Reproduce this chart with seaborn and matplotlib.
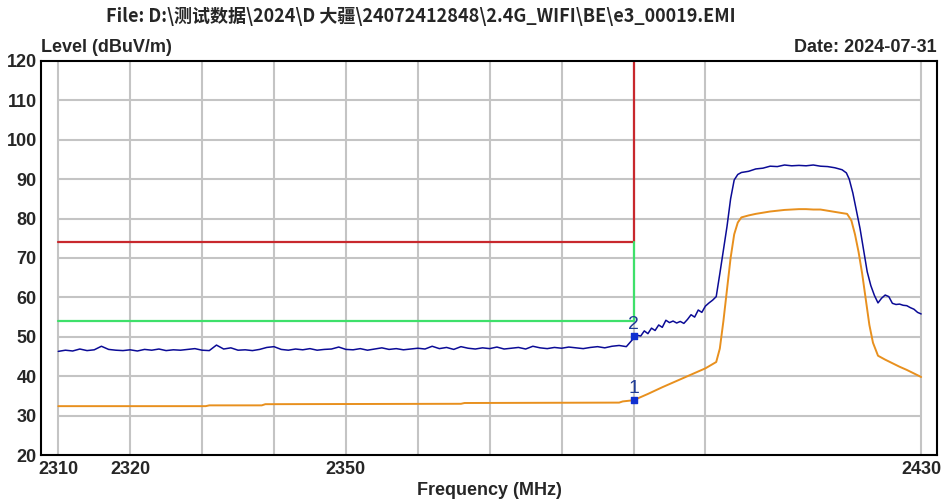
import numpy as np
import pandas as pd
import matplotlib
matplotlib.use("Agg")
import matplotlib.pyplot as plt
import seaborn as sns

# ---------------------
# Data
# ---------------------
title_text = "File: D:\\测试数据\\2024\\D 大疆\\24072412848\\2.4G_WIFI\\BE\\e3_00019.EMI"
date_text = "Date: 2024-07-31"

# peak trace (blue)
peak_base_freq = list(range(2310, 2390))
peak_base_level = [
    46.3, 46.6, 46.4, 46.9, 46.5, 46.7, 47.6, 46.8, 46.6, 46.5,
    46.7, 46.4, 46.8, 46.6, 46.9, 46.5, 46.7, 46.6, 46.8, 47.0,
    46.6, 46.5, 47.9, 46.9, 47.2, 46.6, 46.7, 46.5, 46.8, 47.3,
    47.5, 46.8, 46.6, 46.9, 46.7, 47.0, 46.6, 46.8, 46.9, 47.4,
    46.8, 46.7, 47.0, 46.6, 46.9, 47.2, 46.8, 47.0, 46.7, 46.9,
    47.1, 46.9, 47.6, 47.0, 47.3, 46.8, 47.5, 47.1, 46.9, 47.2,
    47.0, 47.4, 46.9, 47.1, 47.3, 46.9, 47.6, 47.2, 47.0, 47.3,
    47.1, 47.4, 47.2, 47.0, 47.3, 47.5, 47.2, 47.6, 47.8, 47.5,
]
peak_band_freq = [
    2390, 2390.5, 2391, 2391.5, 2392, 2392.5, 2393, 2393.5, 2394, 2394.5,
    2395, 2395.5, 2396, 2396.5, 2397, 2397.5, 2398, 2398.5, 2399, 2399.5,
    2400, 2400.5, 2401, 2401.5, 2402, 2402.5, 2403, 2403.5, 2404, 2404.5,
    2405, 2406, 2407, 2408, 2409, 2410, 2411, 2412, 2413, 2414,
    2415, 2416, 2417, 2418, 2419, 2419.6, 2420, 2420.5, 2421, 2421.5,
    2422, 2422.5, 2423, 2423.5, 2424, 2424.5, 2425, 2425.5, 2426, 2426.5,
    2427, 2427.5, 2428, 2428.5, 2429, 2429.5, 2430,
]
peak_band_level = [
    49.6, 50.4, 50.2, 51.5, 50.8, 52.2, 51.6, 53.0, 52.4, 54.2,
    53.6, 54.0, 53.5, 53.9, 53.4, 54.4, 55.6, 55.0, 56.8, 56.2,
    57.8, 58.6, 59.3, 60.2, 66.0, 72.0, 78.0, 85.0, 89.8, 91.2,
    91.7, 92.0, 92.6, 92.8, 93.3, 93.2, 93.6, 93.4, 93.5, 93.4,
    93.6, 93.3, 93.2, 92.9, 92.4, 91.6, 90.0, 86.5, 82.0, 77.5,
    72.0, 66.5, 63.0, 60.5, 58.6, 59.8, 60.6, 60.2, 58.5, 58.2,
    58.3, 58.0, 57.9, 57.4, 57.0, 56.2, 55.8,
]

# average trace (orange)
avg_freq = [
    2310, 2330.5, 2331, 2338.3, 2338.8, 2366, 2366.5, 2388, 2388.5, 2390,
    2392, 2394, 2396, 2398, 2400, 2401.5, 2402, 2402.5, 2403, 2403.5,
    2404, 2404.5, 2405, 2406, 2407, 2408, 2409, 2410, 2411, 2412,
    2413, 2414, 2415, 2416, 2417, 2418, 2419, 2419.7, 2420.3, 2420.8,
    2421.3, 2421.8, 2422.3, 2422.8, 2423.3, 2424, 2425, 2426, 2427, 2428,
    2429, 2430,
]
avg_level = [
    32.4, 32.4, 32.6, 32.6, 32.9, 33.0, 33.2, 33.3, 33.6, 33.9,
    35.5, 37.2, 38.8, 40.4, 42.0, 43.6, 47.0, 54.0, 62.0, 70.0,
    76.0, 79.0, 80.3, 80.8, 81.2, 81.5, 81.8, 82.0, 82.2, 82.3,
    82.4, 82.4, 82.3, 82.3, 82.0, 81.7, 81.4, 81.2, 79.5, 76.0,
    71.5, 66.0, 59.5, 53.0, 48.5, 45.2, 44.2, 43.3, 42.4, 41.6,
    40.7, 39.8,
]

# limit lines
peak_limit_freq = [2310, 2390, 2390]
peak_limit_level = [74, 74, 120]
avg_limit_freq = [2310, 2390, 2390]
avg_limit_level = [54, 54, 74]

# markers
marker_freq = [2390, 2390]
marker_level = [33.9, 50.1]
marker_names = ["1", "2"]

# grid / ticks
grid_x = [2310, 2320, 2330, 2340, 2350, 2360, 2370, 2380, 2390, 2400, 2430]
grid_y = [30, 40, 50, 60, 70, 80, 90, 100, 110]
x_ticks = [2310, 2320, 2350, 2430]
y_ticks = [20, 30, 40, 50, 60, 70, 80, 90, 100, 110, 120]

BLUE = "#0b0b96"
ORANGE = "#e8901e"
RED = "#c8282d"
GREEN = "#3ee06a"
GRID = "#c4c4c4"

sns.set_style("white")
NARROW = ["Liberation Sans Narrow", "Liberation Sans", "DejaVu Sans"]
CJK = ["Liberation Sans Narrow", "Noto Sans CJK SC", "DejaVu Sans"]
plt.rcParams["font.family"] = NARROW

fig = plt.figure(figsize=(9.45, 5.04), dpi=100)
ax = fig.add_axes([0.0434, 0.0972, 0.9481, 0.7818])

# grid restricted to the data range
ax.hlines(grid_y, 2310, 2430, colors=GRID, linewidth=1.5, zorder=0)
ax.vlines(grid_x, 20, 120, colors=GRID, linewidth=1.5, zorder=0)

peak_df = pd.DataFrame({"freq": peak_base_freq + peak_band_freq,
                        "level": peak_base_level + peak_band_level})
avg_df = pd.DataFrame({"freq": avg_freq, "level": avg_level})

sns.lineplot(data=avg_df, x="freq", y="level", color=ORANGE, linewidth=1.4,
             sort=False, ax=ax, zorder=3)
sns.lineplot(data=peak_df, x="freq", y="level", color=BLUE, linewidth=1.1,
             sort=False, ax=ax, zorder=4)
ax.plot(peak_limit_freq, peak_limit_level, color=RED, linewidth=1.6, zorder=2)
ax.plot(avg_limit_freq, avg_limit_level, color=GREEN, linewidth=1.6, zorder=2)

ax.scatter(marker_freq, marker_level, marker="s", s=22, color="#1030d0", zorder=5)
for f, lv, name in zip(marker_freq, marker_level, marker_names):
    ax.text(f, lv + 0.8, name, ha="center", va="bottom", fontsize=14,
            color="#203c96", family=["Liberation Sans", "DejaVu Sans"], zorder=6)

ax.set_xlim(2307.6, 2432.2)
ax.set_ylim(20, 120)
ax.set_xticks(x_ticks)
ax.set_yticks(y_ticks)
ax.set_xticklabels([str(t) for t in x_ticks], fontsize=13, fontweight="bold")
ax.set_yticklabels([str(t) for t in y_ticks], fontsize=13, fontweight="bold")
ax.tick_params(axis="both", length=0, pad=3)
ax.tick_params(axis="x", pad=4)
ax.set_xlabel("Frequency (MHz)", fontsize=13, fontweight="bold", labelpad=3)
ax.set_ylabel("")

for side in ["top", "bottom", "left", "right"]:
    ax.spines[side].set_visible(True)
    ax.spines[side].set_color("black")
    ax.spines[side].set_linewidth(1.5)

fig.text(0.445, 0.968, title_text, ha="center", va="center", fontsize=13,
         fontweight="bold", family=CJK)
fig.text(0.0434, 0.905, "Level (dBuV/m)", ha="left", va="center", fontsize=13,
         fontweight="bold")
fig.text(0.9915, 0.905, date_text, ha="right", va="center", fontsize=13,
         fontweight="bold")

fig.savefig("out.png", dpi=100)
